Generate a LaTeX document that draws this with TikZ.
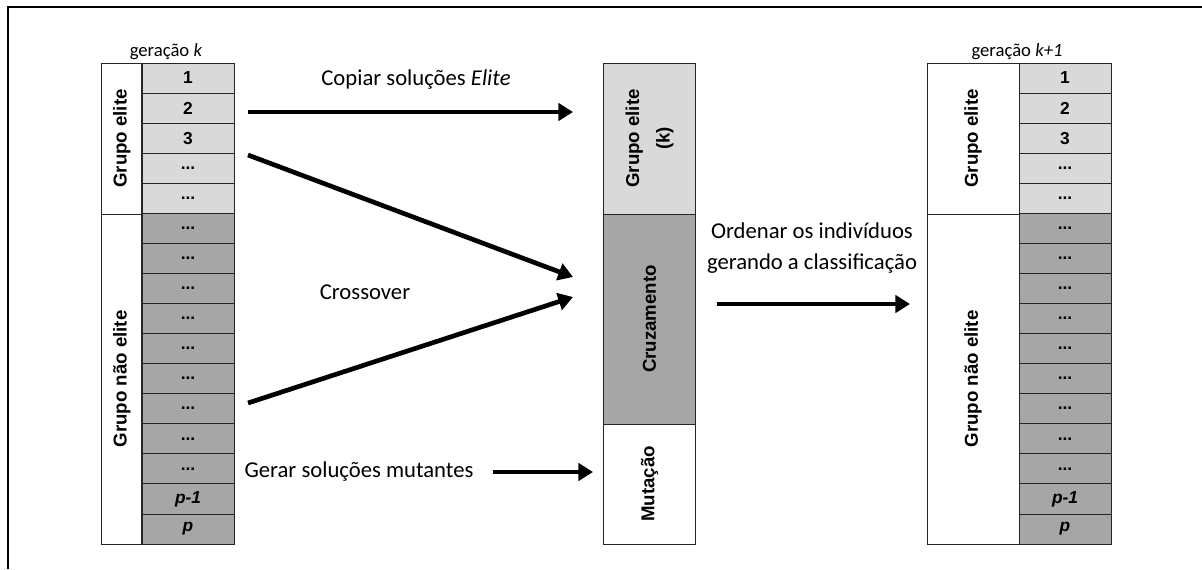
\documentclass[tikz,border=0pt]{standalone}
\usepackage{fontspec}
\setmainfont{Carlito}
\newfontfamily\boxfont{Liberation Sans}
\usetikzlibrary{arrows.meta}

\definecolor{elitegray}{HTML}{D9D9D9}
\definecolor{restgray}{HTML}{A6A6A6}

\tikzstyle{cell}=[rectangle, draw=black!85, line width=0.6pt, inner sep=0pt, minimum width=69pt, minimum height=22.55pt, font=\boxfont\bfseries\fontsize{13}{15}\selectfont]
\tikzstyle{elite}=[cell, fill=elitegray]
\tikzstyle{rest}=[cell, fill=restgray]
\tikzstyle{group}=[cell, fill=white, rotate=90, align=center, font=\boxfont\bfseries\fontsize{14}{16}\selectfont]
\tikzstyle{flow}=[line width=3.5pt, -{Triangle[length=11pt,width=13pt]}]
\tikzstyle{caption}=[inner sep=0pt, font=\fontsize{17}{20}\selectfont]
\tikzstyle{header}=[inner sep=0pt, font=\fontsize{14}{16}\selectfont]
\newcommand{\moredots}{...}

\begin{document}
\begin{tikzpicture}[x=0.75pt, y=-0.75pt]
\useasboundingbox (0,0) rectangle (1202,569);
% frame
\draw[line width=1.5pt] (8,569) -- (8,7) -- (1202,7);

% generation k
\node[header] (hk) at (166,52) {geração \textit{k}};
\node[group, minimum width=113.25pt, minimum height=30pt] (lg1) at (121.7,138.5) {Grupo elite};
\node[group, minimum width=247.5pt, minimum height=30pt] (lg2) at (121.7,379) {Grupo não elite};
\foreach \i/\t in {1/1,2/2,3/3,4/\moredots,5/\moredots}
  \node[elite] (l\i) at (188,63+30.06*\i-15.03) {\t};
\foreach \i in {6,7,8,9,10,11,12,13,14}
  \node[rest] (l\i) at (188,63+30.06*\i-15.03) {\moredots};
\node[rest] (l15) at (188,63+30.06*15-15.03) {\textit{p-1}};
\node[rest] (l16) at (188,63+30.06*16-15.03) {\textit{p}};

% population under construction
\node[group, fill=elitegray, minimum width=113.25pt, minimum height=69.4pt] (m1) at (649.5,138.5) {Grupo elite\\[7pt](k)};
\node[group, fill=restgray, minimum width=157.5pt, minimum height=69.4pt] (m2) at (649.5,319) {Cruzamento};
\node[group, minimum width=90pt, minimum height=69.4pt] (m3) at (649.5,484) {Mutação};

% generation k+1
\node[header] (hk1) at (1017,52) {geração \textit{k+1}};
\node[group, minimum width=113.25pt, minimum height=69pt] (rg1) at (973,138.5) {Grupo elite};
\node[group, minimum width=247.5pt, minimum height=69pt] (rg2) at (973,379) {Grupo não elite};
\foreach \i/\t in {1/1,2/2,3/3,4/\moredots,5/\moredots}
  \node[elite] (r\i) at (1065,63+30.06*\i-15.03) {\t};
\foreach \i in {6,7,8,9,10,11,12,13,14}
  \node[rest] (r\i) at (1065,63+30.06*\i-15.03) {\moredots};
\node[rest] (r15) at (1065,63+30.06*15-15.03) {\textit{p-1}};
\node[rest] (r16) at (1065,63+30.06*16-15.03) {\textit{p}};

% arrows
\coordinate (cpA) at (248,112);
\coordinate (cpB) at (573,112);
\coordinate (coA) at (248,155);
\coordinate (coB) at (573,277);
\coordinate (coC) at (248,403);
\coordinate (coD) at (573,297);
\coordinate (muA) at (493,472);
\coordinate (muB) at (593,472);
\coordinate (orA) at (717,304);
\coordinate (orB) at (910,304);
\draw[flow] (cpA) -- (cpB);
\draw[flow] (coA) -- (coB);
\draw[flow] (coC) -- (coD);
\draw[flow] (muA) -- (muB);
\draw[flow] (orA) -- (orB);

% captions
\node[caption] (tcp) at (416,80) {Copiar soluções \textit{Elite}};
\node[caption] (tco) at (365,292) {Crossover};
\node[caption] (tmu) at (359,472) {Gerar soluções mutantes};
\node[caption, align=center, font=\fontsize{17}{23}\selectfont] (tor) at (812,248) {Ordenar os indivíduos\\gerando a classificação};
\end{tikzpicture}
\end{document}
